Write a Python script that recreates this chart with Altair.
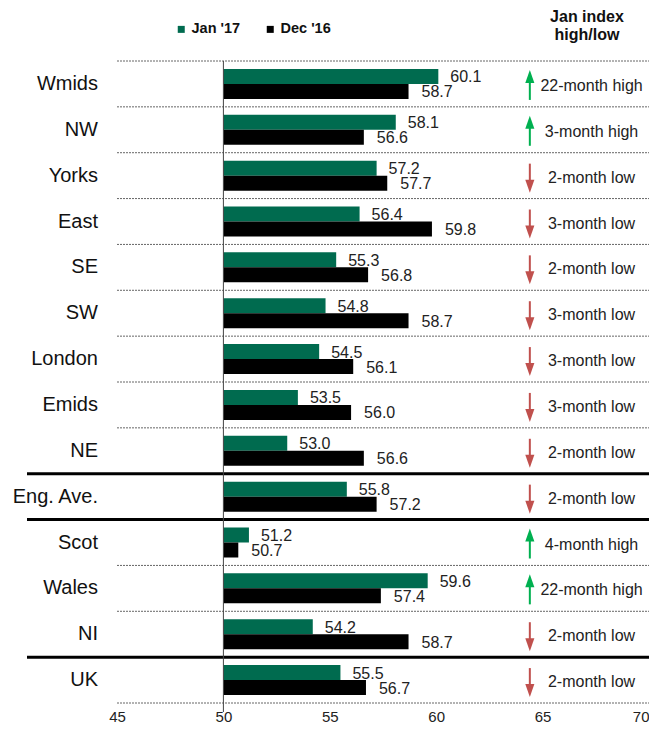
import altair as alt
import pandas as pd

cats = ["Wmids", "NW", "Yorks", "East", "SE", "SW", "London", "Emids", "NE",
        "Eng. Ave.", "Scot", "Wales", "NI", "UK"]
jan17 = [60.1, 58.1, 57.2, 56.4, 55.3, 54.8, 54.5, 53.5, 53.0, 55.8, 51.2, 59.6, 54.2, 55.5]
dec16 = [58.7, 56.6, 57.7, 59.8, 56.8, 58.7, 56.1, 56.0, 56.6, 57.2, 50.7, 57.4, 58.7, 56.7]
direction = ["up", "up", "down", "down", "down", "down", "down", "down", "down",
             "down", "up", "up", "down", "down"]
notes = ["22-month high", "3-month high", "2-month low", "3-month low", "2-month low",
         "3-month low", "3-month low", "3-month low", "2-month low", "2-month low",
         "4-month high", "22-month high", "2-month low", "2-month low"]
series = ["Jan '17", "Dec '16"]
colors = ["#006b4f", "#000000"]
dashed_tops = ["Wmids", "NW", "Yorks", "East", "SE", "SW", "London", "Emids", "NE", "Wales", "NI"]
solid_tops = ["Eng. Ave.", "Scot", "UK"]
ticks = [45, 50, 55, 60, 65, 70]

FONT = "Liberation Sans"
W, H = 532, 642

rows = pd.DataFrame({"cat": cats, "jan": jan17, "dec": dec16, "dir": direction, "note": notes})
long = pd.concat([
    pd.DataFrame({"cat": cats, "series": series[0], "value": jan17}),
    pd.DataFrame({"cat": cats, "series": series[1], "value": dec16}),
])

xs = alt.Scale(domain=[45, 70], nice=False, zero=False)
ys = alt.Scale(domain=cats, paddingInner=0, paddingOuter=0)
Y = alt.Y("cat:N", scale=ys, axis=None)

bars = alt.Chart(long).mark_bar().encode(
    x=alt.X("value:Q", scale=xs,
            axis=alt.Axis(values=ticks, domain=False, ticks=False, grid=False, title=None,
                          labelFontSize=15, labelPadding=6, labelColor="#222", labelFont=FONT,
                          labelFlush=False, labelOverlap=False,
                          labelAlign=alt.condition("datum.value == 70", alt.value("right"), alt.value("center")))),
    x2=alt.datum(50),
    y=Y,
    yOffset=alt.YOffset("series:N", scale=alt.Scale(domain=series, paddingOuter=0.53, paddingInner=0)),
    color=alt.Color("series:N", scale=alt.Scale(domain=series, range=colors),
                    legend=alt.Legend(orient="none", legendX=57, legendY=-39, direction="horizontal",
                                      title=None, symbolType="square", symbolSize=49, labelOffset=3,
                                      labelFontWeight="bold", labelFontSize=14.5, labelFont=FONT,
                                      columnPadding=22, symbolStrokeWidth=0, labelColor="#111")),
)

lab_jan = alt.Chart(rows).mark_text(align="left", dx=12, yOffset=-6.5, fontSize=16, font=FONT, color="#222").encode(
    x=alt.X("jan:Q", scale=xs), y=Y, text=alt.Text("jan:Q", format=".1f"))
lab_dec = alt.Chart(rows).mark_text(align="left", dx=13, yOffset=8.5, fontSize=16, font=FONT, color="#222").encode(
    x=alt.X("dec:Q", scale=xs), y=Y, text=alt.Text("dec:Q", format=".1f"))

catlab = alt.Chart(rows).mark_text(align="right", baseline="middle", fontSize=20, font=FONT, color="#111").encode(
    x=alt.value(-19), y=Y, text="cat:N")

dash_df = pd.DataFrame({"cat": dashed_tops})
dashed = alt.Chart(dash_df).mark_rule(strokeDash=[2, 1], color="#666", strokeWidth=1).encode(
    x=alt.datum(45, scale=xs), x2=alt.datum(70),
    y=alt.Y("cat:N", scale=ys, axis=None, bandPosition=0))
dashed_bottom = alt.Chart(pd.DataFrame({"cat": ["UK"]})).mark_rule(strokeDash=[2, 1], color="#666", strokeWidth=1).encode(
    x=alt.datum(45, scale=xs), x2=alt.datum(70),
    y=alt.Y("cat:N", scale=ys, axis=None, bandPosition=1))
solid = alt.Chart(pd.DataFrame({"cat": solid_tops})).mark_rule(color="#000", strokeWidth=3).encode(
    x=alt.value(-90), x2=alt.value(W),
    y=alt.Y("cat:N", scale=ys, axis=None, bandPosition=0))

vline = alt.Chart(pd.DataFrame({"a": [0]})).mark_rule(color="#444", strokeWidth=1).encode(
    x=alt.datum(50, scale=xs), y=alt.value(0), y2=alt.value(H + 9))

up = rows[rows["dir"] == "up"]
down = rows[rows["dir"] == "down"]
AX = 64.4
up_shaft = alt.Chart(up).mark_rule(color="#00b050", strokeWidth=2, yOffset=-4, y2Offset=16).encode(
    x=alt.datum(AX, scale=xs), y=Y, y2="cat:N")
up_head = alt.Chart(up).mark_point(shape="M0,-1L0.7,1L-0.7,1Z", filled=True, opacity=1, size=169,
                                   color="#00b050", yOffset=-7.5).encode(x=alt.datum(AX, scale=xs), y=Y)
dn_shaft = alt.Chart(down).mark_rule(color="#c0504d", strokeWidth=2, yOffset=-12, y2Offset=7).encode(
    x=alt.datum(AX, scale=xs), y=Y, y2="cat:N")
dn_head = alt.Chart(down).mark_point(shape="M0,1L0.7,-1L-0.7,-1Z", filled=True, opacity=1, size=169,
                                     color="#c0504d", yOffset=10.5).encode(x=alt.datum(AX, scale=xs), y=Y)

note_txt = alt.Chart(rows).mark_text(align="center", fontSize=16, font=FONT, color="#222", yOffset=2).encode(
    x=alt.datum(67.3, scale=xs), y=Y, text="note:N")

header = alt.Chart(pd.DataFrame({"t": [["Jan index", "high/low"]]})).mark_text(
    align="center", baseline="middle", fontSize=16, fontWeight="bold", font=FONT, color="#111", lineHeight=18).encode(
    x=alt.value(470), y=alt.value(-44), text="t")

chart = alt.layer(
    bars, lab_jan, lab_dec, catlab, dashed, dashed_bottom, solid, vline,
    up_shaft, up_head, dn_shaft, dn_head, note_txt, header
).properties(
    width=W, height=H,
    autosize=alt.AutoSizeParams(type="none"),
    padding={"left": 109, "top": 53, "right": 0, "bottom": 20},
).configure_view(stroke=None)

chart.save("out.html", embed_options={"renderer": "svg", "actions": False})
